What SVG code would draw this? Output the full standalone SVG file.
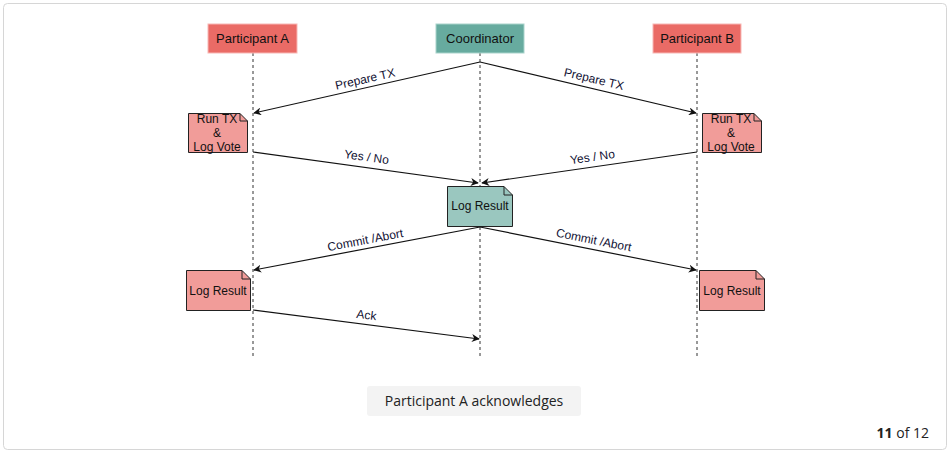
<svg xmlns="http://www.w3.org/2000/svg" width="951" height="453" viewBox="0 0 951 453">
<style>
.actor text,.note text,.lbl{font-family:"Liberation Sans",Arial,sans-serif;fill:#111;}
.actor text{font-size:13px;text-anchor:middle;}
.note text{font-size:12px;text-anchor:middle;}
.lbl{font-size:12px;text-anchor:middle;fill:#111133;}
.life{stroke:#333;stroke-width:1;stroke-dasharray:3,3;fill:none;}
.msg{stroke:#111;stroke-width:1.2;fill:none;marker-end:url(#arr);}
.nb{stroke:#222;stroke-width:1;}
</style>
<defs>
<marker id="arr" viewBox="0 0 10 10" refX="9" refY="5" markerWidth="8" markerHeight="8" markerUnits="userSpaceOnUse" orient="auto">
<path d="M0,0 L10,5 L0,10 L3,5 z" fill="#111"/>
</marker>
</defs>
<rect x="3.5" y="3.5" width="943" height="446" rx="4" fill="#fff" stroke="#d6d6d6"/>
<g id="lifelines">
<line class="life" x1="253" y1="53" x2="253" y2="358"/>
<line class="life" x1="480" y1="53" x2="480" y2="358"/>
<line class="life" x1="697" y1="53" x2="697" y2="358"/>
</g>
<g id="participantA" class="actor"><rect x="208" y="24" width="89" height="29" fill="#EA6B66" stroke="#f8b8b5"/><text x="252.5" y="43">Participant A</text></g>
<g id="coordinator" class="actor"><rect x="436" y="24" width="88" height="29" fill="#67AB9F" stroke="#a9d3cb"/><text x="480" y="43">Coordinator</text></g>
<g id="participantB" class="actor"><rect x="653" y="24" width="88" height="29" fill="#EA6B66" stroke="#f8b8b5"/><text x="697" y="43">Participant B</text></g>
<g id="runTxA" class="note"><path class="nb" d="M188.5,113.5 H240 L247.5,121 V152.5 H188.5 Z" fill="#F19C99"/><path class="nb" d="M240,113.5 V121 H247.5" fill="none"/><text x="217" y="123">Run TX</text><text x="217" y="137">&amp;</text><text x="217" y="151">Log Vote</text></g>
<g id="runTxB" class="note"><path class="nb" d="M702.5,113.5 H754 L761.5,121 V152.5 H702.5 Z" fill="#F19C99"/><path class="nb" d="M754,113.5 V121 H761.5" fill="none"/><text x="731" y="123">Run TX</text><text x="731" y="137">&amp;</text><text x="731" y="151">Log Vote</text></g>
<g id="logResultC" class="note"><path class="nb" d="M447.5,186.5 H504 L512.5,195 V226.5 H447.5 Z" fill="#9AC7BF"/><path class="nb" d="M504,186.5 V195 H512.5" fill="none"/><text x="480" y="210">Log Result</text></g>
<g id="logResultA" class="note"><path class="nb" d="M186.5,270.5 H242 L250.5,279 V310.5 H186.5 Z" fill="#F19C99"/><path class="nb" d="M242,270.5 V279 H250.5" fill="none"/><text x="218" y="295">Log Result</text></g>
<g id="logResultB" class="note"><path class="nb" d="M699.5,270.5 H756 L764.5,279 V310.5 H699.5 Z" fill="#F19C99"/><path class="nb" d="M756,270.5 V279 H764.5" fill="none"/><text x="732" y="295">Log Result</text></g>
<g id="connectors">
<line class="msg" x1="480" y1="62" x2="254" y2="113"/>
<line class="msg" x1="480" y1="62" x2="696" y2="113"/>
<line class="msg" x1="253" y1="152" x2="478" y2="183"/>
<line class="msg" x1="697" y1="152" x2="482" y2="183"/>
<line class="msg" x1="480" y1="227" x2="254" y2="270"/>
<line class="msg" x1="480" y1="227" x2="696" y2="270"/>
<line class="msg" x1="253" y1="310" x2="479" y2="339"/>
<text class="lbl" transform="translate(366,83) rotate(-12.7)">Prepare TX</text>
<text class="lbl" transform="translate(593,83) rotate(13.3)">Prepare TX</text>
<text class="lbl" transform="translate(366,161) rotate(7.8)">Yes / No</text>
<text class="lbl" transform="translate(593,161) rotate(-8.2)">Yes / No</text>
<text class="lbl" transform="translate(366,244) rotate(-10.8)">Commit /Abort</text>
<text class="lbl" transform="translate(593,244) rotate(11.3)">Commit /Abort</text>
<text class="lbl" transform="translate(366,319) rotate(7.3)">Ack</text>
</g>
<g id="caption">
<rect x="367" y="386" width="214" height="30" rx="3" fill="#f3f3f3"/>
<text x="474" y="406" font-family="'Open Sans',Lato,sans-serif" font-size="14" fill="#222" text-anchor="middle">Participant A acknowledges</text>
</g>
<text x="929" y="438" font-family="'Open Sans',Lato,sans-serif" font-size="14" fill="#222" text-anchor="end"><tspan font-weight="bold">11</tspan> of 12</text>
</svg>
